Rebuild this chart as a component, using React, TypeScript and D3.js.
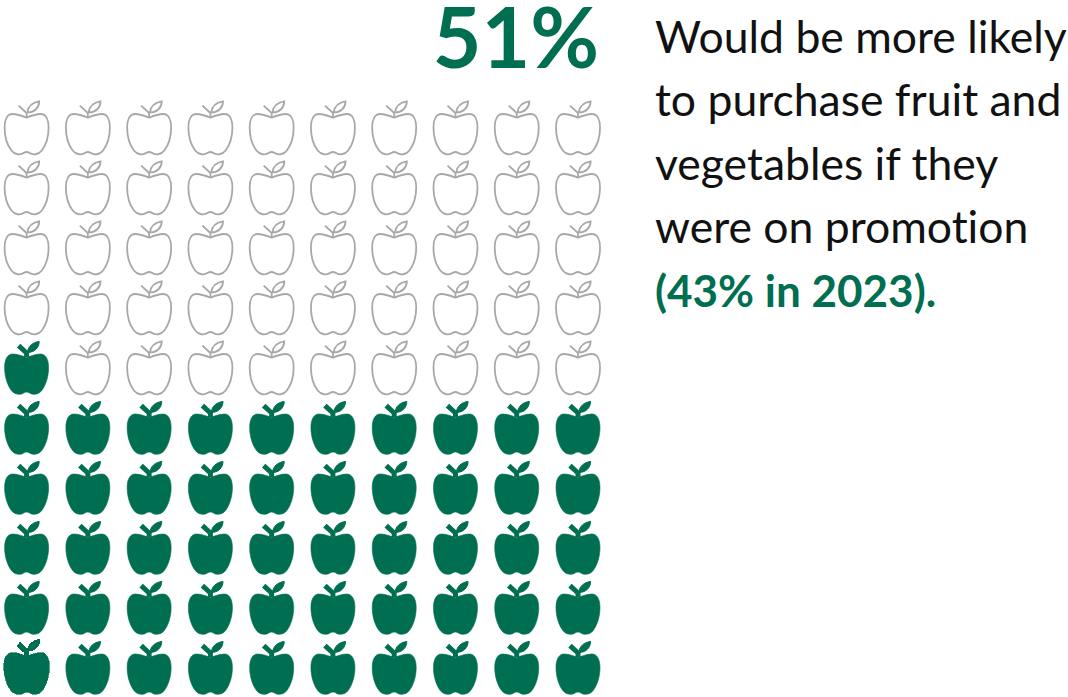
import React from "react";
import * as d3 from "d3";

const WIDTH = 1068;
const HEIGHT = 697;

// Pictogram values
const totalUnits = 100;
const unitsPerRow = 10;
const filledUnits = 51;
const rowIndex = d3.range(totalUnits / unitsPerRow);
const columnIndex = d3.range(unitsPerRow);

// Copy
const headline = "51%";
const bodyLines = [
  "Would be more likely",
  "to purchase fruit and",
  "vegetables if they",
  "were on promotion",
];
const comparisonLine = "(43% in 2023).";

const GREEN = "#006e51";
const GREY = "#a8a8a8";
const FONT = "Lato, Carlito, Calibri, sans-serif";

// Apple glyph, origin at the top centre, drawn about 45 wide by 54 tall
const bodyPath = d3.path();
bodyPath.moveTo(0, 16.6);
bodyPath.bezierCurveTo(-4, 15, -9, 13, -14, 13);
bodyPath.bezierCurveTo(-19.2, 13, -22, 18.5, -22, 26.5);
bodyPath.bezierCurveTo(-22, 36, -19, 44.5, -15.2, 49.5);
bodyPath.bezierCurveTo(-12, 53.8, -6, 54.4, -2.6, 51.8);
bodyPath.bezierCurveTo(-1, 50.8, 1, 50.8, 2.6, 51.8);
bodyPath.bezierCurveTo(6, 54.4, 12, 53.8, 15.2, 49.5);
bodyPath.bezierCurveTo(19, 44.5, 22, 36, 22, 26.5);
bodyPath.bezierCurveTo(22, 18.5, 19.2, 13, 14, 13);
bodyPath.bezierCurveTo(9, 13, 4, 15, 0, 16.6);
bodyPath.closePath();
const APPLE_BODY = bodyPath.toString();

const leafPath = d3.path();
leafPath.moveTo(0.8, 11.4);
leafPath.bezierCurveTo(1.5, 5, 6, 1.5, 12.6, 0.4);
leafPath.bezierCurveTo(12.6, 6.5, 8, 11.6, 0.8, 11.4);
leafPath.closePath();
const APPLE_LEAF = leafPath.toString();

const stemPath = d3.path();
stemPath.moveTo(0, 16);
stemPath.lineTo(0, 12);
stemPath.lineTo(-8, 4.6);
const APPLE_STEM = stemPath.toString();

const x = d3.scalePoint<number>().domain(columnIndex).range([26.6, 578]);
// Row 0 is the bottom of the block, filling runs left to right, bottom to top
const y = d3.scalePoint<number>().domain(rowIndex).range([641, 101]);

type Unit = { row: number; col: number; index: number; filled: boolean };
const units: Unit[] = d3.range(totalUnits).map((index) => ({
  index,
  row: Math.floor(index / unitsPerRow),
  col: index % unitsPerRow,
  filled: index < filledUnits,
}));

function Apple({ unit }: { unit: Unit }) {
  const first = unit.index === 0;
  const transform = `translate(${x(unit.col)},${y(unit.row)! + (first ? -2 : 0)})${first ? " scale(1.04,1.04)" : ""}`;
  if (unit.filled) {
    return (
      <g transform={transform} shapeRendering={first ? "crispEdges" : undefined}>
        <path d={APPLE_BODY} fill={GREEN} stroke={GREEN} strokeWidth={0.6} />
        <path d={APPLE_LEAF} fill={GREEN} stroke={GREEN} strokeWidth={1} />
        <path d={APPLE_STEM} fill="none" stroke={GREEN} strokeWidth={first ? 5.4 : 5} />
      </g>
    );
  }
  return (
    <g transform={transform} fill="none" stroke={GREY} strokeWidth={1.8}>
      <path d={APPLE_BODY} />
      <path d={APPLE_LEAF} />
      <path d={APPLE_STEM} />
    </g>
  );
}

export default function App() {
  const lineY = d3.scaleLinear().domain([0, 1]).range([52.5, 116]);
  return (
    <svg
      width={WIDTH}
      height={HEIGHT}
      viewBox={`0 0 ${WIDTH} ${HEIGHT}`}
      style={{ position: "absolute", left: 0, top: 0, background: "#fff", fontVariantLigatures: "none" }}
    >
      {units.map((u) => (
        <Apple key={u.index} unit={u} />
      ))}
      <text
        x={599}
        y={68}
        textAnchor="end"
        fontFamily={FONT}
        fontWeight={700}
        fontSize={84}
        fill={GREEN}
      >
        {headline}
      </text>
      {bodyLines.map((line, i) => (
        <text key={line} x={655} y={lineY(i)} fontFamily={FONT} fontSize={44.5} fill="#111111">
          {line}
        </text>
      ))}
      <text
        x={655}
        y={lineY(bodyLines.length)}
        fontFamily={FONT}
        fontWeight={700}
        fontSize={44}
        fill={GREEN}
      >
        {comparisonLine}
      </text>
    </svg>
  );
}
